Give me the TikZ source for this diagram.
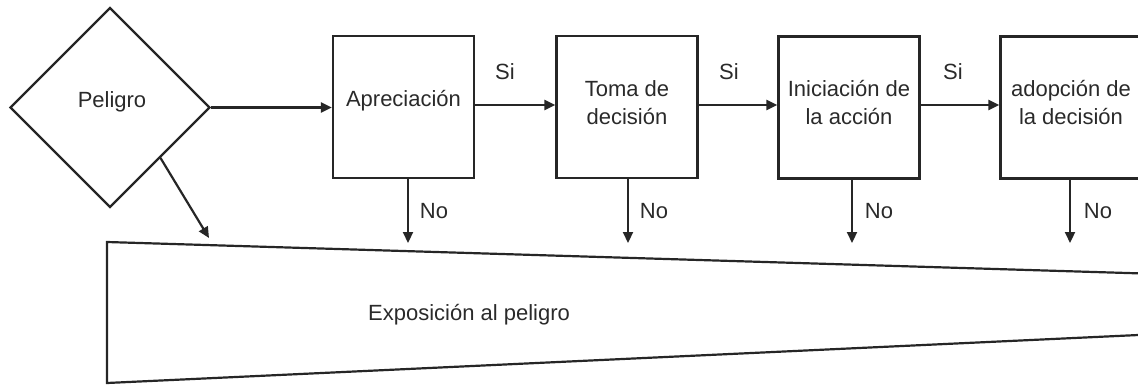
\documentclass[tikz,border=0pt]{standalone}
\usepackage{fontspec}
\setmainfont{Liberation Sans}
\usetikzlibrary{shapes.geometric,arrows.meta}
\definecolor{ln}{HTML}{262626}
\definecolor{tx}{HTML}{2A2A2A}
\tikzset{
  x=1pt,y=-1pt,
  every node/.style={text=tx,font=\fontsize{22}{28}\selectfont},
  shape box/.style={draw=ln,line width=2.2pt,rectangle,minimum width=141pt,minimum height=142pt,inner sep=0pt},
  dia/.style={draw=ln,line width=2.2pt,diamond,minimum width=200pt,minimum height=200pt,inner sep=0pt},
  txt/.style={align=center,inner sep=0pt},
  arr/.style={draw=ln,line width=2.2pt,-{Triangle[length=11pt,width=10pt]}},
  edge/.style={draw=ln,line width=2.2pt,line join=miter},
}
\begin{document}
\begin{tikzpicture}
\useasboundingbox (0,0) rectangle (1138,386);
% diamond
\node[dia] (pel) at (110,107.5) {};
\node[txt] (pelt) at (112,102) {Peligro};
% boxes
\node[shape box] (b1) at (403.5,107) {};
\node[txt] (b1t) at (403.5,101) {Apreciación};
\node[shape box] (b2) at (627,107) {};
\node[txt] (b2t) at (627,103) {Toma de\\decisión};
\node[shape box] (b3) at (849,107.5) {};
\node[txt] (b3t) at (849,103) {Iniciación de\\la acción};
\node[shape box] (b4) at (1071,107.5) {};
\node[txt] (b4t) at (1071,103) {adopción de\\la decisión};
% trapezoid
\coordinate (tl) at (107,242);
\coordinate (tr) at (1160,274);
\coordinate (br) at (1160,334);
\coordinate (bl) at (107,383);
\draw[edge] (tr) -- (tl) -- (bl) -- (br);
\node[txt] (exp) at (469,315) {Exposición al peligro};
% horizontal arrows
\draw[arr] (pel.east) -- (b1.west |- pel.east);
\draw[arr] (b1.east |- 0,105) -- (b2.west |- 0,105);
\draw[arr] (b2.east |- 0,105) -- (b3.west |- 0,105);
\draw[arr] (b3.east |- 0,105) -- (b4.west |- 0,105);
\node[txt] (s1) at (505,72) {Si};
\node[txt] (s2) at (729,72) {Si};
\node[txt] (s3) at (953,72) {Si};
% No arrows
\coordinate (e1) at (408,243);
\coordinate (e2) at (628,243);
\coordinate (e3) at (852,243);
\coordinate (e4) at (1070,243);
\draw[arr] (e1 |- b1.south) -- (e1);
\draw[arr] (e2 |- b2.south) -- (e2);
\draw[arr] (e3 |- b3.south) -- (e3);
\draw[arr] (e4 |- b4.south) -- (e4);
\node[txt] (n1) at (434,211) {No};
\node[txt] (n2) at (654,211) {No};
\node[txt] (n3) at (879,211) {No};
\node[txt] (n4) at (1098,211) {No};
% diagonal
\coordinate (d1) at (209,238);
\draw[arr] (pel.south east) -- (d1);
\end{tikzpicture}
\end{document}
